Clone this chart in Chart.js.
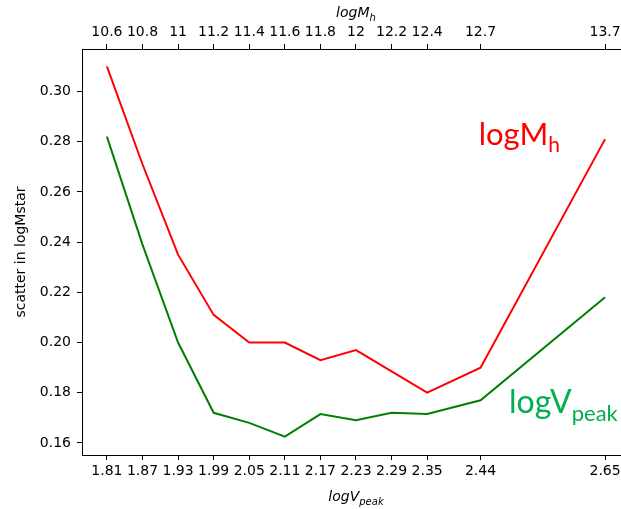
<!DOCTYPE html>
<html>
<head>
<meta charset="utf-8">
<script src="https://cdn.jsdelivr.net/npm/chart.js@4"></script>
<style>
  html, body { margin: 0; padding: 0; background: #fff; overflow: hidden; }
  #clip { width: 621px; height: 509px; overflow: hidden; position: relative; }
  #wrap { width: 640px; height: 509px; position: relative; }
</style>
</head>
<body>
<div id="clip"><div id="wrap"><canvas id="scatterChart"></canvas></div></div>
<script>
  // values
  const logVpeak = [1.81, 1.87, 1.93, 1.99, 2.05, 2.11, 2.17, 2.23, 2.29, 2.35, 2.44, 2.65];
  const logMhLabels = ["10.6", "10.8", "11", "11.2", "11.4", "11.6", "11.8", "12", "12.2", "12.4", "12.7", "13.7"];
  const scatterMh = [0.310, 0.271, 0.235, 0.211, 0.200, 0.200, 0.193, 0.197, 0.1885, 0.180, 0.190, 0.281];
  const scatterVpeak = [0.282, 0.239, 0.200, 0.172, 0.168, 0.1625, 0.1715, 0.169, 0.172, 0.1715, 0.177, 0.218];
  const yTickValues = [0.16, 0.18, 0.20, 0.22, 0.24, 0.26, 0.28, 0.30];

  // matplotlib-style 5% margins; the right edge of the frame falls outside the picture
  const X_MIN = 1.768, X_MAX = 2.692, X_MID = 2.23;
  const Y_MIN = 0.1552, Y_MAX = 0.3169;

  const tickFont = { family: "'DejaVu Sans', sans-serif", size: 14 };

  function drawWithSub(ctx, x, y, main, sub, size, subSize, family, style, center) {
    ctx.font = style + " " + size + "px " + family;
    const w1 = ctx.measureText(main).width;
    ctx.font = style + " " + subSize + "px " + family;
    const w2 = ctx.measureText(sub).width;
    const x0 = center ? x - (w1 + w2) / 2 : x;
    ctx.textAlign = "left";
    ctx.textBaseline = "alphabetic";
    ctx.font = style + " " + size + "px " + family;
    ctx.fillText(main, x0, y);
    ctx.font = style + " " + subSize + "px " + family;
    ctx.fillText(sub, x0 + w1, y + size * 0.25);
  }

  const titlesPlugin = {
    id: "titlesPlugin",
    afterDraw(chart) {
      const { ctx, chartArea } = chart;
      const midX = chart.scales.x.getPixelForValue(X_MID);
      ctx.save();
      ctx.fillStyle = "#000";
      drawWithSub(ctx, midX, 17, "logM", "h", 14, 10, "'DejaVu Sans', sans-serif", "italic", true);
      drawWithSub(ctx, midX, 501, "logV", "peak", 14, 10, "'DejaVu Sans', sans-serif", "italic", true);
      ctx.translate(21, (chartArea.top + chartArea.bottom) / 2);
      ctx.rotate(-Math.PI / 2);
      ctx.font = "14px 'DejaVu Sans', sans-serif";
      ctx.textAlign = "center";
      ctx.textBaseline = "middle";
      ctx.fillText("scatter in logMstar", 0, 0);
      ctx.restore();
    }
  };

  const seriesLabelsPlugin = {
    id: "seriesLabelsPlugin",
    beforeDatasetsDraw(chart) {
      const { ctx } = chart;
      const xs = chart.scales.x;
      const ys = chart.scales.y;
      ctx.save();
      ctx.fillStyle = "#ff0000";
      drawWithSub(ctx, xs.getPixelForValue(2.437), ys.getPixelForValue(0.2788), "logM", "h", 31, 21, "Lato, sans-serif", "normal", false);
      ctx.fillStyle = "#00b050";
      drawWithSub(ctx, xs.getPixelForValue(2.488), ys.getPixelForValue(0.172), "logV", "peak", 32, 22, "Lato, sans-serif", "normal", false);
      ctx.restore();
    }
  };

  new Chart(document.getElementById("scatterChart"), {
    type: "line",
    data: {
      datasets: [
        {
          label: "logMh",
          data: logVpeak.map((v, i) => ({ x: v, y: scatterMh[i] })),
          borderColor: "#ff0000",
          borderWidth: 2,
          pointRadius: 0
        },
        {
          label: "logVpeak",
          data: logVpeak.map((v, i) => ({ x: v, y: scatterVpeak[i] })),
          borderColor: "#008000",
          borderWidth: 2,
          pointRadius: 0
        }
      ]
    },
    options: {
      responsive: true,
      maintainAspectRatio: false,
      animation: false,
      layout: { padding: { left: 0, top: 0, bottom: 0, right: 10 } },
      plugins: {
        legend: { display: false },
        tooltip: { enabled: false }
      },
      scales: {
        x: {
          type: "linear",
          position: "bottom",
          min: X_MIN,
          max: X_MAX,
          afterBuildTicks(scale) {
            scale.ticks = logVpeak.map(v => ({ value: v }));
          },
          afterFit(scale) {
            scale.height = 54;
          },
          ticks: { color: "#000", font: tickFont, autoSkip: false, maxRotation: 0 },
          grid: { drawOnChartArea: false, tickLength: 5, tickColor: "#000" },
          border: { display: true, color: "#000", width: 1 }
        },
        xTop: {
          type: "linear",
          position: "top",
          min: X_MIN,
          max: X_MAX,
          afterBuildTicks(scale) {
            scale.ticks = logVpeak.map(v => ({ value: v }));
          },
          afterFit(scale) {
            scale.height = 49;
          },
          ticks: {
            color: "#000",
            font: tickFont,
            autoSkip: false,
            maxRotation: 0,
            callback(value, index) {
              return logMhLabels[index];
            }
          },
          grid: { drawOnChartArea: false, tickLength: 5, tickColor: "#000" },
          border: { display: true, color: "#000", width: 1 }
        },
        y: {
          type: "linear",
          position: "left",
          min: Y_MIN,
          max: Y_MAX,
          afterBuildTicks(scale) {
            scale.ticks = yTickValues.map(v => ({ value: v }));
          },
          afterFit(scale) {
            scale.width = 82;
          },
          ticks: {
            color: "#000",
            font: tickFont,
            padding: 6,
            callback(value) {
              return Number(value).toFixed(2);
            }
          },
          grid: { drawOnChartArea: false, tickLength: 5, tickColor: "#000" },
          border: { display: true, color: "#000", width: 1 }
        }
      }
    },
    plugins: [titlesPlugin, seriesLabelsPlugin]
  });
</script>
</body>
</html>
